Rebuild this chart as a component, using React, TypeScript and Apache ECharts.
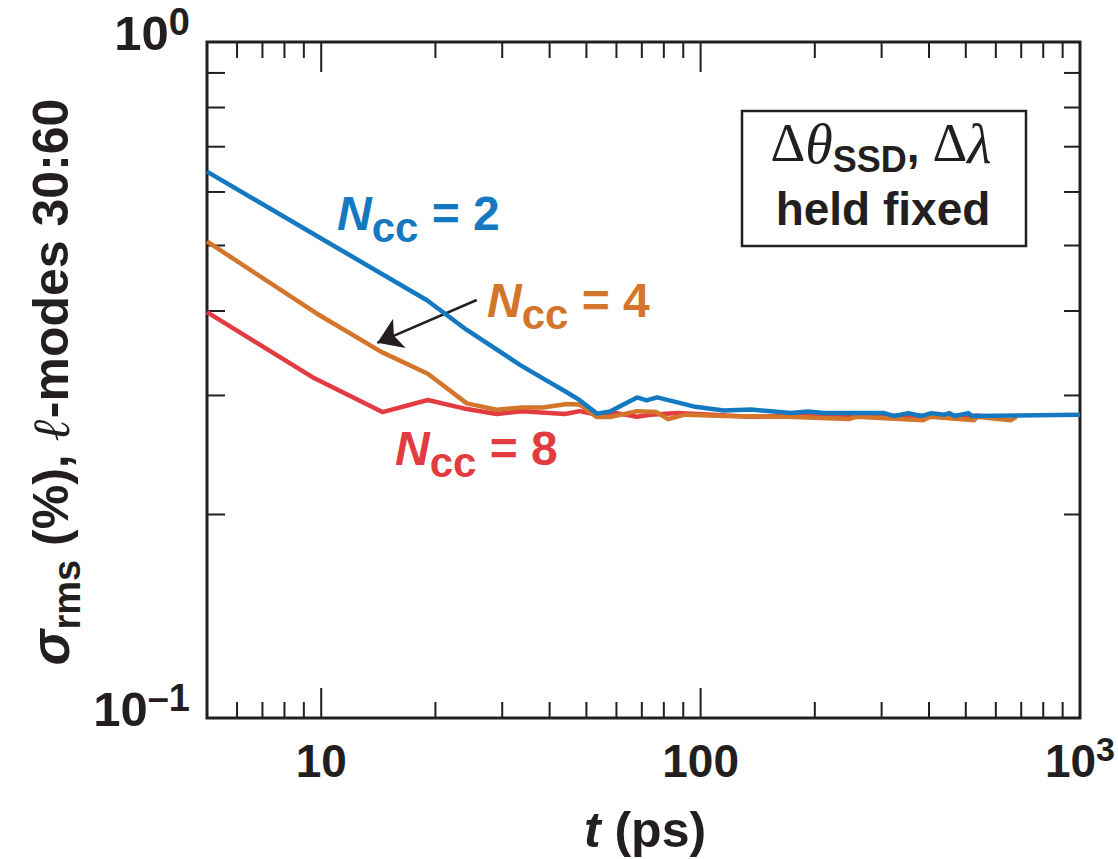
import React, { useEffect, useRef } from "react";
import * as echarts from "echarts";

// ---------- data ----------
const blueT = [5, 10, 19, 24.2, 33.4, 38.4, 44.5, 48.1, 53.3, 57.7, 68, 72, 76.9, 86.9, 95.8, 115, 135.6, 173, 192, 211, 305, 324, 353, 382, 406, 439, 453, 467, 508, 518, 1000];
const blueV = [0.643, 0.512, 0.415, 0.375, 0.333, 0.318, 0.303, 0.295, 0.282, 0.284, 0.298, 0.295, 0.298, 0.293, 0.289, 0.285, 0.286, 0.2825, 0.284, 0.2825, 0.2825, 0.2797, 0.2825, 0.2797, 0.2825, 0.281, 0.2825, 0.2797, 0.2825, 0.2797, 0.281];

const orangeT = [5, 9.7, 14.4, 19.1, 24.2, 29, 33.8, 38.4, 44.4, 48, 53.3, 57.7, 68, 76.4, 82.1, 91, 116, 169, 246, 257, 386, 404, 526, 536, 657, 680];
const orangeV = [0.507, 0.397, 0.348, 0.323, 0.292, 0.2857, 0.288, 0.288, 0.2914, 0.291, 0.2787, 0.2787, 0.2844, 0.2835, 0.2768, 0.281, 0.2797, 0.279, 0.2768, 0.279, 0.2758, 0.279, 0.2758, 0.279, 0.2758, 0.279];

const redT = [5, 9.6, 14.5, 19.1, 24.2, 29, 33.8, 43.9, 48, 53, 60, 68, 73.7, 86.9, 135, 200, 300, 400, 550];
const redV = [0.3985, 0.318, 0.2835, 0.2954, 0.2864, 0.2816, 0.2844, 0.2816, 0.2844, 0.281, 0.2825, 0.279, 0.281, 0.2825, 0.279, 0.28, 0.28, 0.28, 0.28];

const seriesNames = ["Ncc = 8", "Ncc = 4", "Ncc = 2"];
const nccValues = ["2", "4", "8"];

const xMinorTicks = [6, 7, 8, 9, 20, 30, 40, 50, 60, 70, 80, 90, 200, 300, 400, 500, 600, 700, 800, 900];
const xMajorTicks = [10, 100];
const yMinorTicks = [0.2, 0.3, 0.4, 0.5, 0.6, 0.7, 0.8, 0.9];

const arrowFrom = [25.7, 0.4153];
const arrowTo = [14.06, 0.3589];

// ---------- styles ----------
const INK = "#231f20";
const BLUE = "#1479c0";
const ORANGE = "#d3752b";
const RED = "#e23b40";
const SANS = '"Liberation Sans", Arial, Helvetica, sans-serif';
const SERIF = '"Liberation Serif", "Times New Roman", serif';

const zip = (t: number[], v: number[]) => t.map((x, i) => [x, v[i]]);
const isPow10 = (v: number) => {
  const l = Math.log10(v);
  return Math.abs(l - Math.round(l)) < 1e-6;
};

function nccLabel(x: number, y: number, n: string, color: string) {
  const base = { fontFamily: SANS, fontWeight: "bold", fill: color };
  return {
    type: "text",
    x,
    y,
    z: 50,
    style: {
      text: `{n|N}{c|cc}{e| = ${n}}`,
      align: "left",
      verticalAlign: "top",
      rich: {
        n: { ...base, fontStyle: "italic", fontSize: 48, lineHeight: 48, verticalAlign: "top" },
        c: { ...base, fontSize: 42, lineHeight: 42, padding: [17, 0, 0, 0], verticalAlign: "top" },
        e: { ...base, fontSize: 48, lineHeight: 48, verticalAlign: "top" },
      },
    },
  };
}

export default function App() {
  const ref = useRef<HTMLDivElement>(null);

  useEffect(() => {
    document.body.style.margin = "0";
    if (!ref.current) return;
    const chart = echarts.init(ref.current, null, { renderer: "svg" });

    const lineSeries = (name: string, data: number[][], color: string, extra: any = {}) => ({
      type: "line",
      name,
      data,
      showSymbol: false,
      symbol: "none",
      clip: true,
      lineStyle: { color, width: 4.5, join: "round" },
      itemStyle: { color },
      z: 10,
      ...extra,
    });

    const tickStyle = { stroke: INK, lineWidth: 2 };

    const option: any = {
      animation: false,
      grid: {
        left: 207,
        top: 42,
        right: 38,
        bottom: 141,
        show: true,
        borderColor: INK,
        borderWidth: 3,
        backgroundColor: "transparent",
        containLabel: false,
        outerBoundsMode: "none",
      },
      xAxis: {
        type: "log",
        logBase: 10,
        min: 5,
        max: 1000,
        axisLine: { show: false },
        axisTick: { show: false },
        splitLine: { show: false },
        minorTick: { show: false },
        axisLabel: {
          show: true,
          margin: 14,
          hideOverlap: false,
          showMinLabel: true,
          showMaxLabel: true,
          formatter: (v: number) => {
            if (!isPow10(v)) return "";
            const e = Math.round(Math.log10(v));
            if (e === 3) return "{b|10}{s|3}";
            return `{b|${Math.round(v)}}`;
          },
          rich: {
            b: { fontFamily: SANS, fontWeight: "bold", fontSize: 46, lineHeight: 46, padding: [6, 0, 0, 0], color: INK, verticalAlign: "top" },
            s: { fontFamily: SANS, fontWeight: "bold", fontSize: 34, lineHeight: 34, color: INK, verticalAlign: "top" },
          },
        },
      },
      yAxis: {
        type: "log",
        logBase: 10,
        min: 0.1,
        max: 1,
        axisLine: { show: false },
        axisTick: { show: false },
        splitLine: { show: false },
        minorTick: { show: false },
        axisLabel: {
          show: true,
          margin: 17,
          padding: [0, 0, 30, 0],
          formatter: (v: number) => {
            if (!isPow10(v)) return "";
            const e = Math.round(Math.log10(v));
            return e === 0 ? "{b|10}{s|0}" : "{b|10}{s|\u20131}";
          },
          rich: {
            b: { fontFamily: SANS, fontWeight: "bold", fontSize: 49, lineHeight: 49, padding: [6, 0, 0, 0], color: INK, verticalAlign: "top" },
            s: { fontFamily: SANS, fontWeight: "bold", fontSize: 38, lineHeight: 38, color: INK, verticalAlign: "top" },
          },
        },
      },
      series: [
        lineSeries(seriesNames[0], zip(redT, redV), RED),
        lineSeries(seriesNames[1], zip(orangeT, orangeV), ORANGE, {
          markLine: {
            silent: true,
            animation: false,
            symbol: ["none", "arrow"],
            symbolSize: [10, 24],
            label: { show: false },
            lineStyle: { color: INK, width: 2.5, type: "solid" },
            data: [[{ coord: arrowFrom, symbol: "none" }, { coord: arrowTo, symbol: "arrow", symbolSize: 24 }]],
          },
        }),
        lineSeries(seriesNames[2], zip(blueT, blueV), BLUE),
        {
          type: "custom",
          name: "xticks",
          silent: true,
          z: 5,
          data: [...xMinorTicks, ...xMajorTicks].map((t) => [t, 0.5]),
          renderItem: (params: any, api: any) => {
            const cs = params.coordSys;
            const t = api.value(0);
            const p = api.coord([t, api.value(1)]);
            const len = xMajorTicks.indexOf(t) >= 0 ? 30 : 16;
            const bottom = cs.y + cs.height;
            return {
              type: "group",
              children: [
                { type: "line", shape: { x1: p[0], y1: bottom, x2: p[0], y2: bottom - len }, style: tickStyle },
                { type: "line", shape: { x1: p[0], y1: cs.y, x2: p[0], y2: cs.y + len }, style: tickStyle },
              ],
            };
          },
        },
        {
          type: "custom",
          name: "yticks",
          silent: true,
          z: 5,
          data: yMinorTicks.map((v) => [50, v]),
          renderItem: (params: any, api: any) => {
            const cs = params.coordSys;
            const p = api.coord([api.value(0), api.value(1)]);
            const right = cs.x + cs.width;
            return {
              type: "group",
              children: [
                { type: "line", shape: { x1: cs.x, y1: p[1], x2: cs.x + 18, y2: p[1] }, style: tickStyle },
                { type: "line", shape: { x1: right, y1: p[1], x2: right - 16, y2: p[1] }, style: tickStyle },
              ],
            };
          },
        },
      ],
      graphic: [
        // y-axis title
        {
          type: "text",
          x: 50,
          y: 382,
          rotation: Math.PI / 2,
          style: {
            text: "{sig|\u03c3}{sub|rms}{t| (%), }{ell|\u2113}{t|-modes 30:60}",
            align: "center",
            verticalAlign: "middle",
            rich: {
              sig: { fontFamily: SANS, fontWeight: "bold", fontStyle: "italic", fontSize: 54, lineHeight: 54, fill: INK, verticalAlign: "top" },
              sub: { fontFamily: SANS, fontWeight: "bold", fontSize: 38, lineHeight: 38, padding: [25, 0, 0, 0], fill: INK, verticalAlign: "top" },
              t: { fontFamily: SANS, fontWeight: "bold", fontSize: 50, lineHeight: 50, padding: [3, 0, 0, 0], fill: INK, verticalAlign: "top" },
              ell: { fontFamily: SERIF, fontWeight: "bold", fontStyle: "italic", fontSize: 52, lineHeight: 52, padding: [2, 0, 0, 0], fill: INK, verticalAlign: "top" },
            },
          },
        },
        // x-axis title
        {
          type: "text",
          x: 645,
          y: 830,
          style: {
            text: "{i|t}{t| (ps)}",
            align: "center",
            verticalAlign: "middle",
            rich: {
              i: { fontFamily: SANS, fontWeight: "bold", fontStyle: "italic", fontSize: 50, lineHeight: 50, fill: INK },
              t: { fontFamily: SANS, fontWeight: "bold", fontSize: 50, lineHeight: 50, fill: INK },
            },
          },
        },
        // legend box
        {
          type: "rect",
          shape: { x: 742, y: 111, width: 284, height: 135 },
          style: { fill: "#ffffff", stroke: INK, lineWidth: 2.5 },
          z: 40,
        },
        {
          type: "text",
          x: 881,
          y: 116,
          z: 50,
          style: {
            text: "{a|\u0394}{g|\u03b8}{s|SSD}{p|, }{a|\u0394}{g|\u03bb}",
            align: "center",
            verticalAlign: "top",
            rich: {
              a: { fontFamily: SERIF, fontSize: 54, lineHeight: 54, fill: INK, verticalAlign: "top" },
              g: { fontFamily: SERIF, fontStyle: "italic", fontSize: 56, lineHeight: 54, fill: INK, verticalAlign: "top" },
              s: { fontFamily: SANS, fontWeight: "bold", fontSize: 36, lineHeight: 36, padding: [25, 0, 0, 0], fill: INK, verticalAlign: "top" },
              p: { fontFamily: SANS, fontWeight: "bold", fontSize: 46, lineHeight: 46, padding: [7, 0, 0, 0], fill: INK, verticalAlign: "top" },
            },
          },
        },
        {
          type: "text",
          x: 883,
          y: 209,
          z: 50,
          style: {
            text: "held fixed",
            align: "center",
            verticalAlign: "middle",
            fontFamily: SANS,
            fontWeight: "bold",
            fontSize: 46,
            fill: INK,
          },
        },
        nccLabel(337, 189, nccValues[0], BLUE),
        nccLabel(487, 276, nccValues[1], ORANGE),
        nccLabel(395, 424, nccValues[2], RED),
      ],
    };

    chart.setOption(option);
    return () => chart.dispose();
  }, []);

  return <div ref={ref} style={{ width: 1118, height: 859 }} />;
}
